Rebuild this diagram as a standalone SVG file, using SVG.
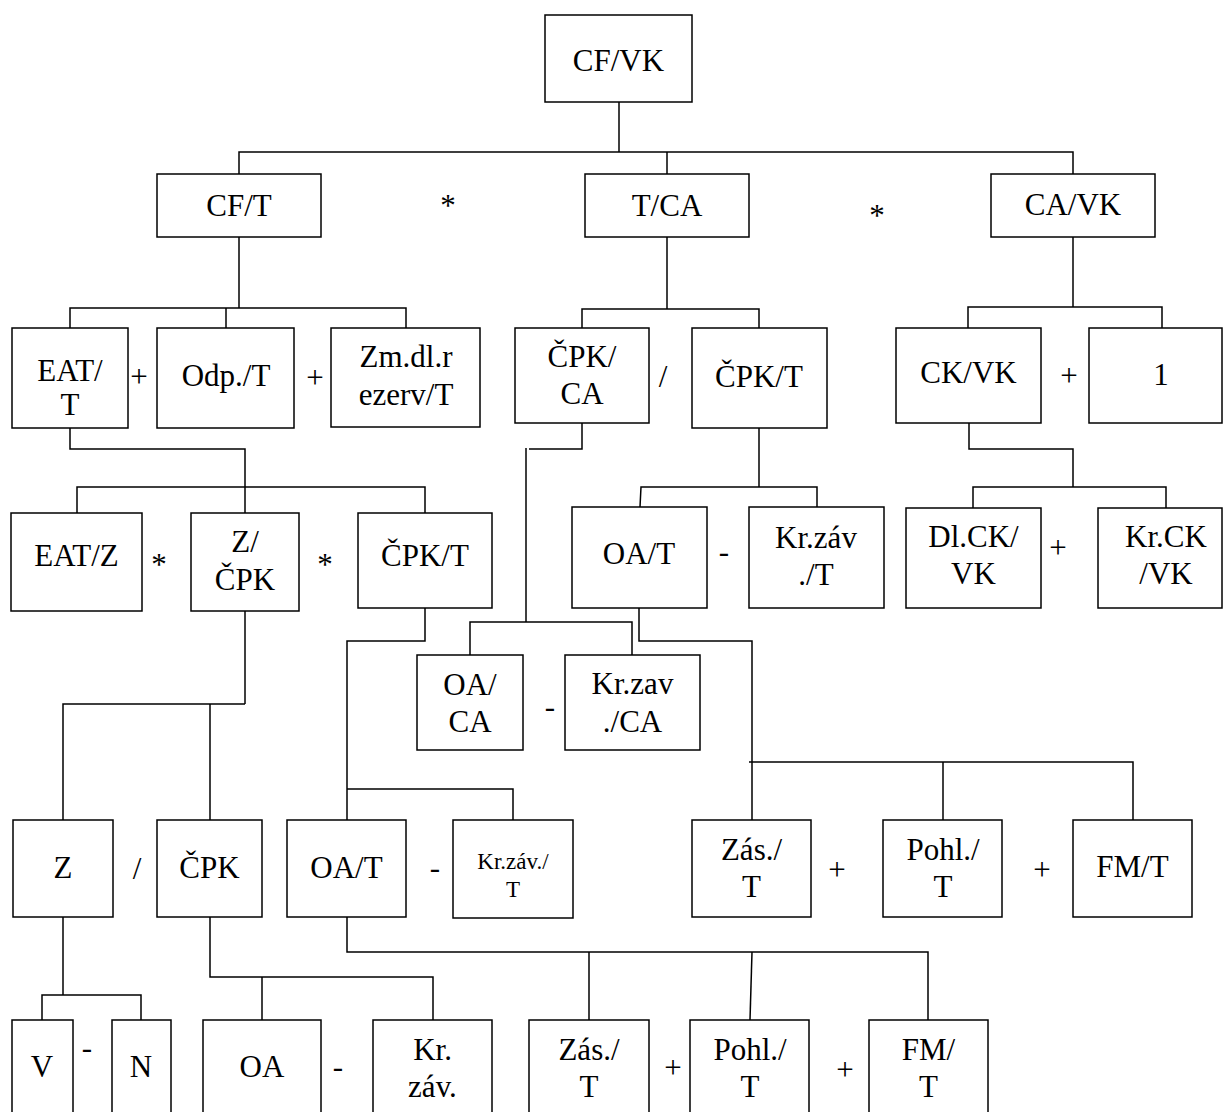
<svg xmlns="http://www.w3.org/2000/svg" width="1225" height="1112" viewBox="0 0 1225 1112">
<style>
rect{fill:#fff;stroke:#000;stroke-width:1.5}
text{font-family:"Liberation Serif","Times New Roman",serif;font-size:31px;fill:#000;text-anchor:middle}
text.s{font-size:23px}
#connectors path{fill:none;stroke:#000;stroke-width:1.5}
</style>
<rect x="0" y="0" width="1225" height="1112" style="stroke:none"/>
<g id="connectors">
<path d="M619,102 V152"/>
<path d="M239,174 V152 H1073 V174"/>
<path d="M667,152 V174"/>
<path d="M239,237 V308"/>
<path d="M70,328 V308 H406 V328"/>
<path d="M226,308 V328"/>
<path d="M667,237 V309"/>
<path d="M582,328 V309 H759 V328"/>
<path d="M1073,237 V307"/>
<path d="M968,328 V307 H1162 V328"/>
<path d="M70,428 V449 H245 V513"/>
<path d="M77,513 V487 H425 V513"/>
<path d="M582,423 V449 H529"/>
<path d="M526,448 V622"/>
<path d="M470,655 V622 H632 V655"/>
<path d="M759,428 V487"/>
<path d="M640,507 L641,487 H817 V507"/>
<path d="M969,423 V449 H1073 V487"/>
<path d="M973,508 V487 H1166 V508"/>
<path d="M245,611 V704"/>
<path d="M63,820 V704 H245"/>
<path d="M210,704 V820"/>
<path d="M425,608 V641 H347 V820"/>
<path d="M347,789 H513 V820"/>
<path d="M639,608 V641 H752 V820"/>
<path d="M749,762 H1133 V820"/>
<path d="M943,762 V820"/>
<path d="M63,917 V995"/>
<path d="M42,1020 V995 H141 V1020"/>
<path d="M210,917 V977 H433 V1020"/>
<path d="M262,977 V1020"/>
<path d="M347,917 V952 H928 V1020"/>
<path d="M589,952 V1020"/>
<path d="M752,952 L750,1020"/>
</g>
<g id="n_cfvk"><rect x="545" y="15" width="147" height="87"/><text x="618.5" y="71">CF/VK</text></g>
<g id="n_cft"><rect x="157" y="174" width="164" height="63"/><text x="239" y="216">CF/T</text></g>
<g id="n_tca"><rect x="585" y="174" width="164" height="63"/><text x="667" y="216">T/CA</text></g>
<g id="n_cavk"><rect x="991" y="174" width="164" height="63"/><text x="1073" y="215">CA/VK</text></g>
<g id="n_eatt"><rect x="12" y="328" width="116" height="100"/><text x="70" y="381">EAT/</text><text x="70" y="415">T</text></g>
<g id="n_odp"><rect x="157" y="328" width="137" height="100"/><text x="226" y="386">Odp./T</text></g>
<g id="n_zmdl"><rect x="331" y="328" width="149" height="99"/><text x="406" y="367">Zm.dl.r</text><text x="406" y="405">ezerv/T</text></g>
<g id="n_cpkca"><rect x="515" y="328" width="134" height="95"/><text x="582" y="367">ČPK/</text><text x="582" y="404">CA</text></g>
<g id="n_cpkt1"><rect x="692" y="328" width="135" height="100"/><text x="759" y="387">ČPK/T</text></g>
<g id="n_ckvk"><rect x="896" y="328" width="145" height="95"/><text x="968.5" y="383">CK/VK</text></g>
<g id="n_one"><rect x="1089" y="328" width="133" height="95"/><text x="1161" y="385">1</text></g>
<g id="n_eatz"><rect x="11" y="513" width="131" height="98"/><text x="76.5" y="566">EAT/Z</text></g>
<g id="n_zcpk"><rect x="191" y="513" width="108" height="98"/><text x="245" y="552">Z/</text><text x="245" y="590">ČPK</text></g>
<g id="n_cpkt2"><rect x="358" y="513" width="134" height="95"/><text x="425" y="566">ČPK/T</text></g>
<g id="n_oat1"><rect x="572" y="507" width="135" height="101"/><text x="639" y="564">OA/T</text></g>
<g id="n_krzavt1"><rect x="749" y="507" width="135" height="101"/><text x="816" y="548">Kr.záv</text><text x="816" y="585">./T</text></g>
<g id="n_dlck"><rect x="906" y="508" width="135" height="100"/><text x="973.5" y="547">Dl.CK/</text><text x="973.5" y="584">VK</text></g>
<g id="n_krck"><rect x="1098" y="508" width="124" height="100"/><text x="1166" y="547">Kr.CK</text><text x="1166" y="584">/VK</text></g>
<g id="n_oaca"><rect x="417" y="655" width="106" height="95"/><text x="470" y="695">OA/</text><text x="470" y="732">CA</text></g>
<g id="n_krzavca"><rect x="565" y="655" width="135" height="95"/><text x="632.5" y="694">Kr.zav</text><text x="632.5" y="732">./CA</text></g>
<g id="n_z"><rect x="13" y="820" width="100" height="97"/><text x="63" y="878">Z</text></g>
<g id="n_cpk"><rect x="157" y="820" width="105" height="97"/><text x="209.5" y="878">ČPK</text></g>
<g id="n_oat2"><rect x="287" y="820" width="119" height="97"/><text x="346.5" y="878">OA/T</text></g>
<g id="n_krzavt2"><rect x="453" y="820" width="120" height="98"/><text class="s" x="513" y="869">Kr.záv./</text><text class="s" x="513" y="897">T</text></g>
<g id="n_zast1"><rect x="692" y="820" width="119" height="97"/><text x="751.5" y="860">Zás./</text><text x="751.5" y="897">T</text></g>
<g id="n_pohlt1"><rect x="883" y="820" width="119" height="97"/><text x="943" y="860">Pohl./</text><text x="943" y="897">T</text></g>
<g id="n_fmt1"><rect x="1073" y="820" width="119" height="97"/><text x="1132.5" y="877">FM/T</text></g>
<g id="n_v"><rect x="12" y="1020" width="61" height="100"/><text x="42" y="1077">V</text></g>
<g id="n_n"><rect x="112" y="1020" width="59" height="100"/><text x="141" y="1077">N</text></g>
<g id="n_oa"><rect x="203" y="1020" width="118" height="100"/><text x="262" y="1077">OA</text></g>
<g id="n_krzav2"><rect x="373" y="1020" width="119" height="100"/><text x="432.5" y="1060">Kr.</text><text x="432.5" y="1097">záv.</text></g>
<g id="n_zast2"><rect x="529" y="1020" width="120" height="100"/><text x="589" y="1060">Zás./</text><text x="589" y="1097">T</text></g>
<g id="n_pohlt2"><rect x="690" y="1020" width="119" height="100"/><text x="750" y="1060">Pohl./</text><text x="750" y="1097">T</text></g>
<g id="n_fmt2"><rect x="869" y="1020" width="119" height="100"/><text x="928.5" y="1060">FM/</text><text x="928.5" y="1097">T</text></g>
<g id="operators">
<text x="448" y="216">*</text>
<text x="877" y="226">*</text>
<text x="159" y="575">*</text>
<text x="325" y="575">*</text>
<text x="139" y="387">+</text>
<text x="315" y="388">+</text>
<text x="1069" y="386">+</text>
<text x="1058" y="558">+</text>
<text x="837" y="880">+</text>
<text x="1042" y="880">+</text>
<text x="673" y="1078">+</text>
<text x="845" y="1080">+</text>
<text x="724" y="562">-</text>
<text x="550" y="717">-</text>
<text x="435" y="878">-</text>
<text x="87" y="1058">-</text>
<text x="338" y="1077">-</text>
<text x="663" y="387">/</text>
<text x="137" y="879">/</text>
</g>
</svg>
